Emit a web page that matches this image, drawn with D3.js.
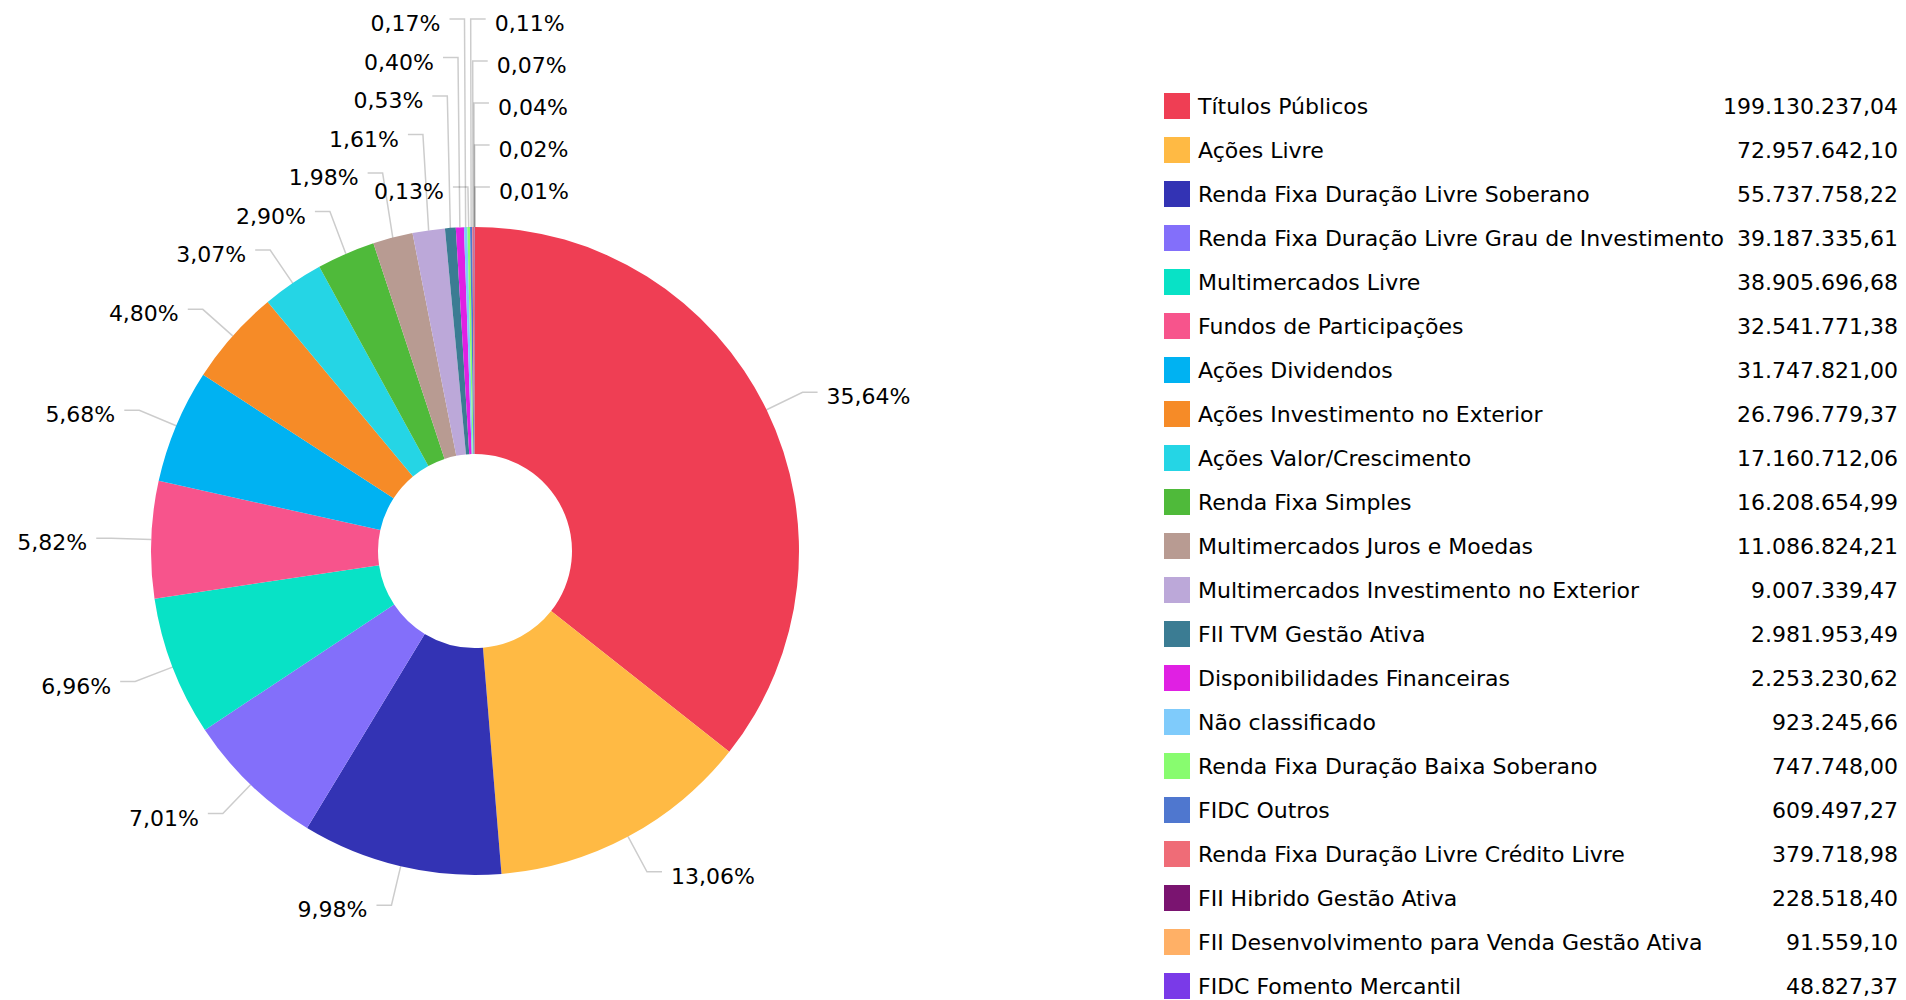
<!DOCTYPE html>
<html>
<head>
<meta charset="utf-8">
<script src="https://cdn.jsdelivr.net/npm/d3@7"></script>
<style>
  body { margin: 0; background: #fff; }
  text { font-family: Verdana, "DejaVu Sans", sans-serif; fill: #000; }
</style>
</head>
<body>
<div id="chart"></div>
<script>
// carteira por classe (valores em R$)
const categories = [
    "Títulos Públicos", "Ações Livre", "Renda Fixa Duração Livre Soberano",
    "Renda Fixa Duração Livre Grau de Investimento", "Multimercados Livre",
    "Fundos de Participações", "Ações Dividendos", "Ações Investimento no Exterior",
    "Ações Valor/Crescimento", "Renda Fixa Simples", "Multimercados Juros e Moedas",
    "Multimercados Investimento no Exterior", "FII TVM Gestão Ativa",
    "Disponibilidades Financeiras", "Não classificado", "Renda Fixa Duração Baixa Soberano",
    "FIDC Outros", "Renda Fixa Duração Livre Crédito Livre", "FII Hibrido Gestão Ativa",
    "FII Desenvolvimento para Venda Gestão Ativa", "FIDC Fomento Mercantil"
];
const values = [
    199130237.04, 72957642.10, 55737758.22, 39187335.61, 38905696.68,
    32541771.38, 31747821.00, 26796779.37, 17160712.06, 16208654.99,
    11086824.21, 9007339.47, 2981953.49, 2253230.62, 923245.66,
    747748.00, 609497.27, 379718.98, 228518.40, 91559.10, 48827.37
];
const colors = [
    "#ef3e54", "#ffba44", "#3333b4", "#836ffa", "#08e2c6",
    "#f7548c", "#00b2f2", "#f68b27", "#25d5e5", "#4fba3a",
    "#b89b92", "#bca8d9", "#3b7c93", "#e020e3", "#7fcbfb",
    "#88fc6f", "#4f77cf", "#ef6c77", "#7a1470", "#ffb066", "#7a3ae8"
];

const W = 1906, H = 1000;
const cx = 475, cy = 551, r = 324, r0 = 97;
const tick = 40, hLine = 15, pad = 9, gap = 36, topY = 19;
const topSnap = Math.PI / 180; // slices within 1 degree of the top get labelled on the right

const br = d3.formatLocale({ decimal: ",", thousands: ".", grouping: [3], currency: ["R$", ""] });
const fmtVal = br.format(",.2f");
const fmtPct = br.format(".2%");

const rows = categories.map((c, i) => ({ name: c, value: values[i], color: colors[i] }));
const total = d3.sum(values);

const svg = d3.select("#chart").append("svg")
    .attr("width", W).attr("height", H);

const pie = d3.pie().sort(null).value(d => d.value);
const arc = d3.arc().innerRadius(r0).outerRadius(r);
const arcs = pie(rows);

const g = svg.append("g").attr("transform", `translate(${cx},${cy})`);
g.selectAll("path.slice")
    .data(arcs)
    .join("path")
    .attr("class", "slice")
    .attr("d", arc)
    .attr("fill", d => d.data.color);

// label placement
const labels = arcs.map(a => {
    const mid = (a.startAngle + a.endAngle) / 2;
    const s = Math.sin(mid), c = Math.cos(mid);
    return {
        d: a, mid,
        sa: mid > Math.PI ? mid - 2 * Math.PI : mid,
        right: mid < Math.PI || mid > 2 * Math.PI - topSnap,
        x0: cx + s * r, y0: cy - c * r,
        bx: cx + s * (r + tick),
        ideal: cy - c * (r + tick)
    };
});
labels.forEach(l => l.y = l.ideal);

function stackUp(group) {
    let prev = null;
    const chains = [];
    group.forEach(l => {
        if (!prev || l.ideal <= prev.y - gap) {
            l.y = l.ideal; prev = l; chains.push([l]); return;
        }
        const y = prev.y - gap;
        if (y < topY) { l.y = l.ideal; return; } // no room left, keep it where it is
        l.y = y; prev = l; chains[chains.length - 1].push(l);
    });
    // pushed chains get spread evenly up to the top
    chains.filter(ch => ch.length > 1).forEach(ch => {
        const step = (ch[0].y - topY) / (ch.length - 1);
        ch.forEach((l, k) => l.y = ch[0].y - k * step);
    });
}
function stackDown(group) {
    let prev = null;
    group.forEach(l => {
        l.y = prev ? Math.max(l.ideal, prev.y + gap) : l.ideal;
        prev = l;
    });
}

stackUp(labels.filter(l => l.right && l.ideal < cy).sort((a, b) => b.sa - a.sa));
stackUp(labels.filter(l => !l.right && l.ideal < cy).sort((a, b) => a.mid - b.mid));
stackDown(labels.filter(l => l.right && l.ideal >= cy).sort((a, b) => a.mid - b.mid));
stackDown(labels.filter(l => !l.right && l.ideal >= cy).sort((a, b) => b.mid - a.mid));

svg.append("g").selectAll("path.tick")
    .data(labels)
    .join("path")
    .attr("class", "tick")
    .attr("d", l => d3.line()([[l.x0, l.y0], [l.bx, l.y], [l.bx + (l.right ? hLine : -hLine), l.y]]))
    .attr("fill", "none")
    .attr("stroke", "#000")
    .attr("stroke-opacity", 0.2)
    .attr("stroke-width", 1.5);

svg.append("g").selectAll("text.pct")
    .data(labels)
    .join("text")
    .attr("class", "pct")
    .attr("x", l => l.right ? l.bx + hLine + pad : l.bx - hLine - pad)
    .attr("y", l => l.y)
    .attr("dy", "0.55em")
    .attr("text-anchor", l => l.right ? "start" : "end")
    .style("font-size", "22px")
    .text(l => fmtPct(l.d.value / total));

// legend: 26px swatches on a 44px step
const yLeg = d3.scaleBand()
    .domain(categories)
    .range([93, 93 + 44 * (categories.length - 1) + 26])
    .paddingInner(18 / 44)
    .paddingOuter(0);

const leg = svg.append("g").selectAll("g.item")
    .data(rows)
    .join("g")
    .attr("class", "item")
    .attr("transform", d => `translate(0,${yLeg(d.name)})`);

leg.append("rect")
    .attr("x", 1164)
    .attr("width", 26)
    .attr("height", yLeg.bandwidth())
    .attr("fill", d => d.color);

leg.append("text")
    .attr("x", 1198)
    .attr("y", yLeg.bandwidth() / 2)
    .attr("dy", "0.37em")
    .style("font-size", "22px")
    .text(d => d.name);

leg.append("text")
    .attr("x", 1898)
    .attr("y", yLeg.bandwidth() / 2)
    .attr("dy", "0.37em")
    .attr("text-anchor", "end")
    .style("font-size", "22px")
    .text(d => fmtVal(d.value));
</script>
</body>
</html>
